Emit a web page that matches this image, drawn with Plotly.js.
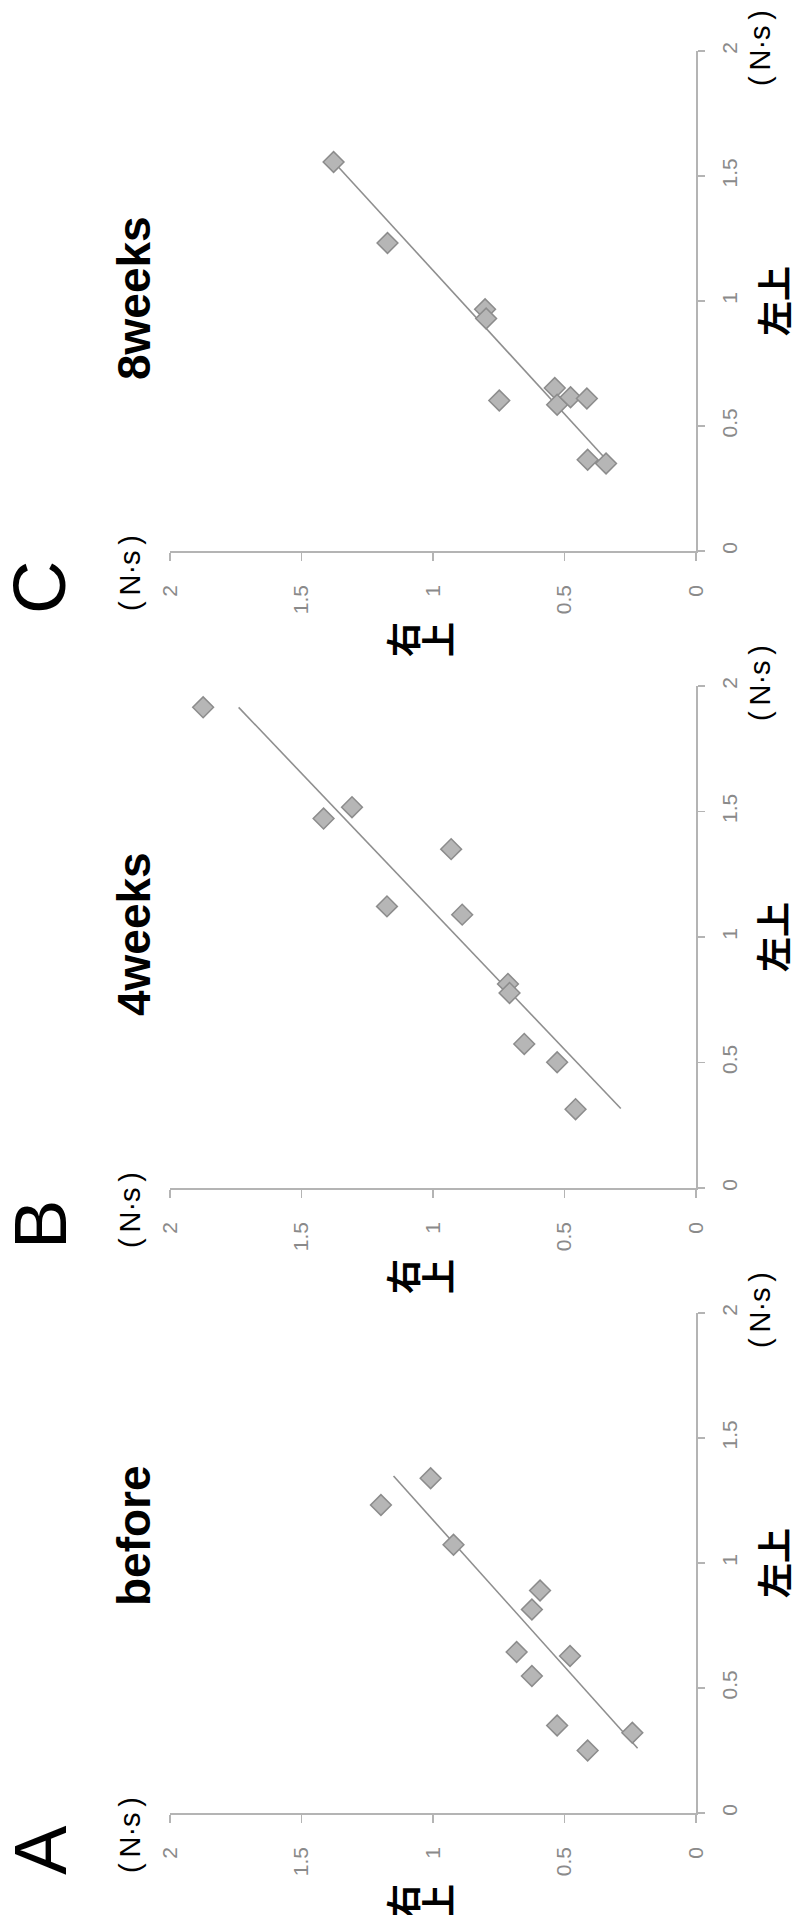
<!DOCTYPE html>
<html>
<head>
<meta charset="utf-8">
<script src="https://cdn.plot.ly/plotly-3.0.1.min.js"></script>
<style>html,body{margin:0;padding:0;background:#fff;}#chart{width:796px;height:1915px;}</style>
</head>
<body>
<div id="chart"></div>
<script>
// ---- data (左上 = left-upper value, 右上 = right-upper value), N·s ----
const panelLetters = ["A", "B", "C"];
const panelTitles = ["before", "4weeks", "8weeks"];
const tickValues = [0, 0.5, 1, 1.5, 2];
const tickLabels = ["0", "0.5", "1", "1.5", "2"];
const unitLabel = "(\u2009N·s\u2009)";

const beforeLeft  = [1.232, 1.339, 1.073, 0.890, 0.814, 0.644, 0.628, 0.548, 0.350, 0.250, 0.321];
const beforeRight = [1.198, 1.009, 0.922, 0.593, 0.624, 0.682, 0.479, 0.624, 0.528, 0.412, 0.242];
const beforeTrendLeft  = [0.259, 1.348];
const beforeTrendRight = [0.222, 1.150];

const week4Left  = [1.915, 1.472, 1.517, 1.350, 1.122, 1.089, 0.813, 0.777, 0.574, 0.501, 0.314];
const week4Right = [1.874, 1.416, 1.308, 0.931, 1.175, 0.889, 0.715, 0.709, 0.653, 0.528, 0.458];
const week4TrendLeft  = [0.317, 1.915];
const week4TrendRight = [0.286, 1.739];

const week8Left  = [1.556, 1.232, 0.967, 0.930, 0.602, 0.652, 0.585, 0.615, 0.610, 0.365, 0.350];
const week8Right = [1.378, 1.173, 0.802, 0.798, 0.748, 0.537, 0.528, 0.477, 0.415, 0.412, 0.342];
const week8TrendLeft  = [0.378, 1.550];
const week8TrendRight = [0.352, 1.372];

const seriesLeft  = [beforeLeft, week4Left, week8Left];
const seriesRight = [beforeRight, week4Right, week8Right];
const trendLeft   = [beforeTrendLeft, week4TrendLeft, week8TrendLeft];
const trendRight  = [beforeTrendRight, week4TrendRight, week8TrendRight];

// ---- layout geometry (pixels) ----
const W = 796, H = 1915;
const plotLeft = 170, plotRight = 696;
const boxes = [{top: 1313, bottom: 1813}, {top: 686, bottom: 1188}, {top: 51, bottom: 551}];
const px = v => v / W;
const py = v => 1 - v / H;

const latin = "Liberation Sans, Arial, Helvetica, sans-serif";
const cjk = "Noto Sans CJK JP";
const axisGray = "#b4b4b4";
const tickFont = {family: latin, size: 21, color: "#8a8a8a"};

const traces = [];
const layout = {
  width: W, height: H,
  margin: {l: 0, r: 0, t: 0, b: 0},
  paper_bgcolor: "#ffffff", plot_bgcolor: "#ffffff",
  showlegend: false,
  annotations: []
};

for (let i = 0; i < 3; i++) {
  const n = i === 0 ? "" : String(i + 1);
  const b = boxes[i];
  const common = {
    showline: true, linecolor: axisGray, linewidth: 1.6,
    ticks: "outside", ticklen: 8, tickwidth: 1.4, tickcolor: axisGray,
    tickmode: "array", tickvals: tickValues, ticktext: tickLabels,
    tickangle: -90, tickfont: tickFont,
    showgrid: false, zeroline: false, fixedrange: true
  };
  layout["xaxis" + n] = Object.assign({}, common, {
    domain: [px(plotLeft), px(plotRight)], range: [2, 0],
    anchor: "y" + n, side: "bottom", ticklabelstandoff: 16
  });
  layout["yaxis" + n] = Object.assign({}, common, {
    domain: [py(b.bottom), py(b.top)], range: [0, 2],
    anchor: "x" + n, side: "right", ticklen: 7, ticklabelstandoff: 7
  });

  traces.push({
    type: "scatter", mode: "lines",
    x: trendRight[i], y: trendLeft[i],
    xaxis: "x" + n, yaxis: "y" + n,
    line: {color: "#8f8f8f", width: 1.6},
    hoverinfo: "skip", cliponaxis: false
  });
  traces.push({
    type: "scatter", mode: "markers",
    x: seriesRight[i], y: seriesLeft[i],
    xaxis: "x" + n, yaxis: "y" + n,
    marker: {symbol: "diamond", size: 16, color: "#b6b6b6",
             line: {color: "#8c8c8c", width: 1.5}},
    cliponaxis: false
  });

  const A = layout.annotations;
  const base = {xref: "paper", yref: "paper", showarrow: false,
                xanchor: "center", yanchor: "middle", textangle: -90};
  // panel letter
  A.push(Object.assign({}, base, {x: px(40), y: py(b.bottom + 37), text: panelLetters[i],
    font: {family: latin, size: 74, color: "#000"}}));
  // panel title
  A.push(Object.assign({}, base, {x: px(134), y: py(i === 0 ? b.top + 223 : (b.top + b.bottom) / 2 - 3),
    text: "<b>" + panelTitles[i] + "</b>", font: {family: latin, size: 46, color: "#000"}}));
  // unit labels
  A.push(Object.assign({}, base, {x: px(130), y: py(b.bottom + 22), text: unitLabel,
    font: {family: latin, size: 29, color: "#000"}}));
  A.push(Object.assign({}, base, {x: px(760), y: py(b.top - 3), text: unitLabel,
    font: {family: latin, size: 29, color: "#000"}}));
  // 左上 axis label
  A.push(Object.assign({}, base, {x: px(772), y: py((b.top + b.bottom) / 2), text: "<b>左上</b>",
    font: {family: cjk, size: 35, color: "#000"}}));
  // 右上 axis label (characters side by side, each rotated)
  A.push(Object.assign({}, base, {x: px(401), y: py(b.bottom + 89), text: "<b>右</b>",
    font: {family: cjk, size: 35, color: "#000"}}));
  A.push(Object.assign({}, base, {x: px(436), y: py(b.bottom + 89), text: "<b>上</b>",
    font: {family: cjk, size: 35, color: "#000"}}));
}

Plotly.newPlot("chart", traces, layout, {staticPlot: true, displayModeBar: false});
</script>
</body>
</html>
